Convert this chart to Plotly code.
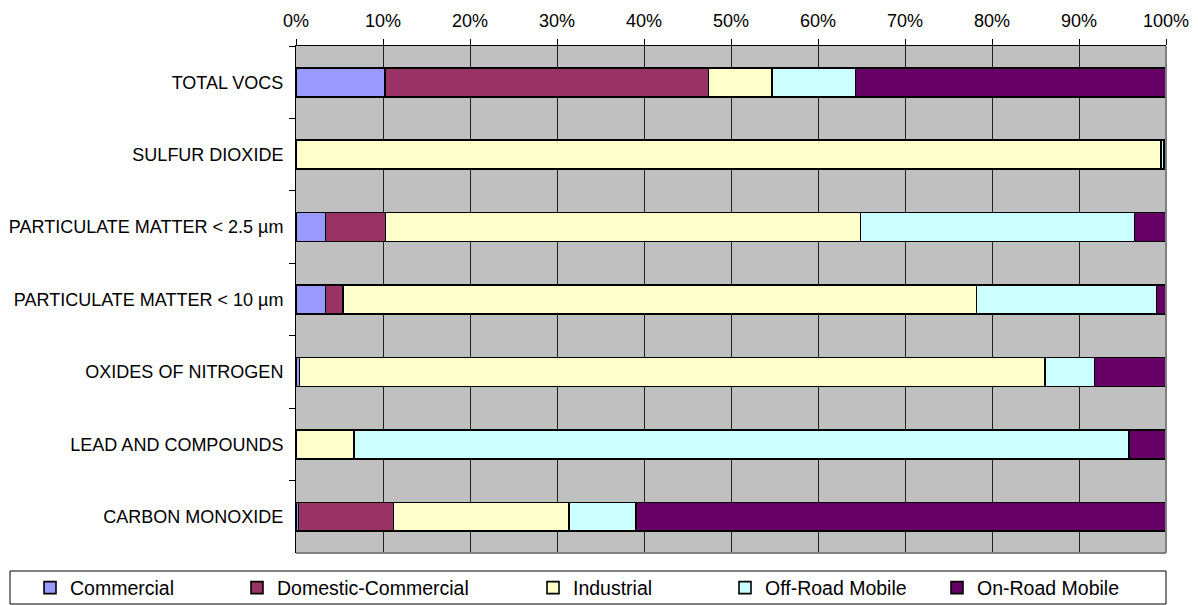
import plotly.graph_objects as go

categories = ["TOTAL VOCS", "SULFUR DIOXIDE", "PARTICULATE MATTER < 2.5 µm",
              "PARTICULATE MATTER < 10 µm", "OXIDES OF NITROGEN",
              "LEAD AND COMPOUNDS", "CARBON MONOXIDE"]

series_names = ["Commercial", "Domestic-Commercial", "Industrial",
                "Off-Road Mobile", "On-Road Mobile"]

commercial = [10.2, 0.0, 3.4, 3.4, 0.4, 0.0, 0.3]
domestic_commercial = [37.2, 0.0, 6.9, 2.0, 0.0, 0.0, 10.9]
industrial = [7.3, 99.4, 54.6, 72.8, 85.7, 6.7, 20.2]
off_road = [9.6, 0.4, 31.5, 20.7, 5.7, 89.05, 7.7]
on_road = [35.7, 0.2, 3.6, 1.1, 8.2, 4.25, 60.9]

tick_vals = [0, 10, 20, 30, 40, 50, 60, 70, 80, 90, 100]
tick_text = ["0%", "10%", "20%", "30%", "40%", "50%", "60%", "70%", "80%", "90%", "100%"]

colors = ["#9999FF", "#993366", "#FFFFCC", "#CCFFFF", "#660066"]
series_values = [commercial, domestic_commercial, industrial, off_road, on_road]

FONT = "Liberation Sans, Arial, sans-serif"

W, H = 1198, 605
L, R, T, B = 296, 32, 46, 52
pw = W - L - R
ph = H - T - B
legend_text_px = [70, 277, 573, 765, 977]

fig = go.Figure()
for i, (name, vals, col) in enumerate(zip(series_names, series_values, colors)):
    lg = "legend" if i == 0 else f"legend{i+1}"
    fig.add_trace(go.Bar(
        y=categories, x=vals, name=name, orientation="h",
        marker=dict(color=col, line=dict(color="black", width=1.6)),
        legend=lg,
    ))

legends = {}
for i, px in enumerate(legend_text_px):
    key = "legend" if i == 0 else f"legend{i+1}"
    legends[key] = dict(
        xref="container", yref="container",
        x=(px - 40) / W, xanchor="left",
        y=(H - 588) / H, yanchor="middle",
        bgcolor="rgba(0,0,0,0)", borderwidth=0,
        font=dict(family=FONT, size=19.5, color="black"),
        orientation="h",
    )

fig.update_layout(
    width=W, height=H,
    margin=dict(l=L, r=R, t=T, b=B, autoexpand=False),
    barmode="stack", barnorm="percent", bargap=0.6,
    plot_bgcolor="#C0C0C0", paper_bgcolor="white",
    font=dict(family=FONT, size=18, color="black"),
    showlegend=True,
    **legends,
)

fig.update_xaxes(
    side="top", range=[0, 100], tickvals=tick_vals, ticktext=tick_text,
    ticks="outside", ticklen=6, tickcolor="black", tickwidth=1,
    showgrid=True, gridcolor="#202020", gridwidth=1,
    showline=True, linecolor="black", linewidth=1, zeroline=False,
    tickfont=dict(family=FONT, size=18, color="black"),
    ticklabelstandoff=5,
    fixedrange=True,
)
fig.update_yaxes(
    autorange="reversed", type="category",
    ticks="outside", ticklen=6, tickcolor="black", tickwidth=1,
    tickson="boundaries", showgrid=False,
    showline=True, linecolor="black", linewidth=1,
    tickfont=dict(family=FONT, size=18, color="black"),
    ticklabelstandoff=8,
    fixedrange=True,
)

fig.add_shape(type="line", xref="paper", yref="paper", x0=1, x1=1, y0=0, y1=1,
              line=dict(color="#808080", width=2), layer="above")
fig.add_shape(type="line", xref="paper", yref="paper", x0=0, x1=1, y0=0, y1=0,
              line=dict(color="#808080", width=2), layer="above")

fig.add_shape(type="rect", xref="paper", yref="paper",
              x0=(10 - L) / pw, x1=(1166 - L) / pw,
              y0=(T + ph - 604) / ph, y1=(T + ph - 571) / ph,
              line=dict(color="black", width=1), fillcolor="rgba(0,0,0,0)")

fig.write_html(
    "out.html",
    config={"displayModeBar": False},
    post_script="document.body.style.margin='0';document.body.style.overflow='hidden';",
)
